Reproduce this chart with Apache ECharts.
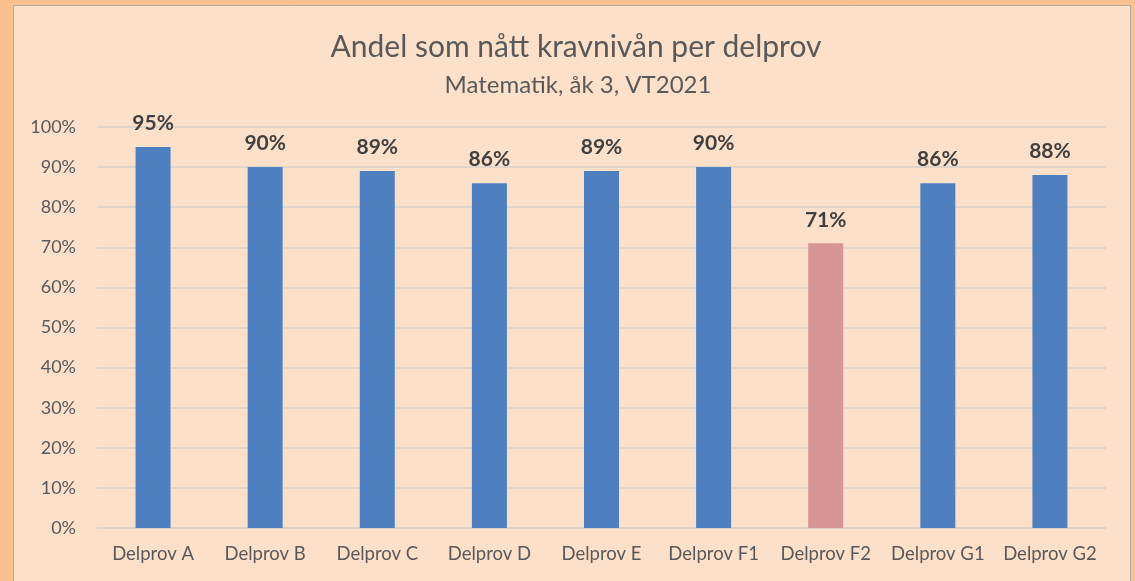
<!DOCTYPE html>
<html>
<head>
<meta charset="utf-8">
<script src="https://cdn.jsdelivr.net/npm/echarts@6/dist/echarts.min.js"></script>
<style>
  html, body { margin: 0; padding: 0; background: #F9C18F; }
  #chart { width: 1135px; height: 581px; }
</style>
</head>
<body>
<div id="chart"></div>
<script>
// Andel elever som nått kravnivån, per delprov
const categories = ['Delprov A', 'Delprov B', 'Delprov C', 'Delprov D', 'Delprov E',
                    'Delprov F1', 'Delprov F2', 'Delprov G1', 'Delprov G2'];
const shares = [95, 90, 89, 86, 89, 90, 71, 86, 88];
const highlighted = ['Delprov F2'];
const yTicks = [0, 10, 20, 30, 40, 50, 60, 70, 80, 90, 100];

const FONT = 'Lato, "Open Sans", sans-serif';
const BLUE = '#4E7FBF';
const ROSE = '#D89594';

const chart = echarts.init(document.getElementById('chart'), null, { renderer: 'canvas' });

chart.setOption({
  backgroundColor: '#F9C18F',
  animation: false,
  graphic: [{
    type: 'rect',
    z: -10,
    shape: { x: 13.5, y: 5.5, width: 1117, height: 620 },
    style: { fill: '#FCE0CA', stroke: '#B9A89B', lineWidth: 1 }
  }],
  title: [{
    text: 'Andel som nått kravnivån per delprov',
    left: 571,
    textAlign: 'center',
    top: 27,
    textStyle: { fontFamily: FONT, fontSize: 30, fontWeight: 'normal', color: '#595959' }
  }, {
    text: 'Matematik, åk 3, VT2021',
    left: 573,
    textAlign: 'center',
    top: 68,
    textStyle: { fontFamily: FONT, fontSize: 24, fontWeight: 'normal', color: '#595959' }
  }],
  grid: { left: 97, right: 29, top: 127, bottom: 53, containLabel: false },
  xAxis: {
    type: 'category',
    data: categories,
    axisLine: { show: true, lineStyle: { color: '#D9D2CB', width: 1.5 } },
    axisTick: { show: false },
    axisLabel: { interval: 0, hideOverlap: false, fontFamily: FONT, fontSize: 18.5,
                 color: '#595959', margin: 17 }
  },
  yAxis: {
    type: 'value',
    min: yTicks[0],
    max: yTicks[yTicks.length - 1],
    interval: yTicks[1] - yTicks[0],
    axisLine: { show: false },
    axisTick: { show: false },
    axisLabel: { fontFamily: FONT, fontSize: 18, color: '#595959', margin: 21,
                 formatter: v => v + '%' },
    splitLine: { lineStyle: { color: '#D9D2CB', width: 1.5 } }
  },
  series: [{
    type: 'bar',
    barWidth: 35,
    data: shares.map((v, i) => ({
      value: v,
      itemStyle: { color: highlighted.includes(categories[i]) ? ROSE : BLUE }
    })),
    label: {
      show: true,
      position: 'top',
      distance: 13,
      fontFamily: FONT,
      fontSize: 21,
      fontWeight: 'bold',
      color: '#404040',
      formatter: p => p.value + '%'
    }
  }]
});
</script>
</body>
</html>
